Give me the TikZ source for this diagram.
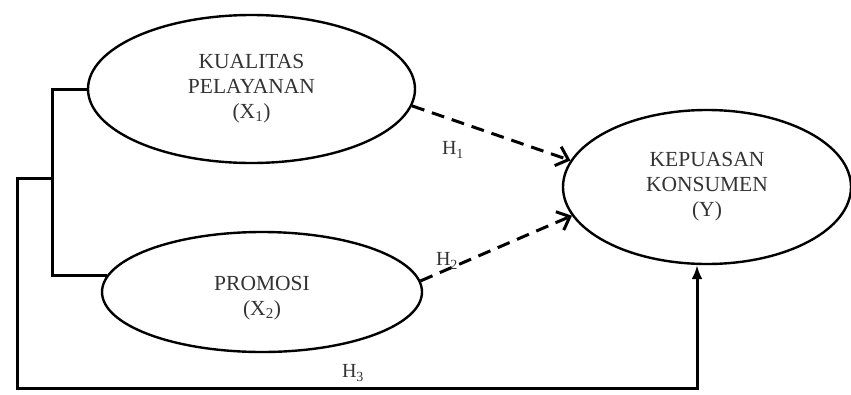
\documentclass[tikz,border=0pt]{standalone}
\usepackage{fontspec}
\setmainfont{Liberation Serif}
\usetikzlibrary{shapes.geometric,arrows.meta}
\begin{document}
\begin{tikzpicture}[x=1pt,y=-1pt,
  ell/.style={draw=black,line width=2.4pt,ellipse,inner sep=0pt,align=center,
    text=black!80,font=\fontsize{21.5}{25}\selectfont},
  txt/.style={align=center,inner sep=0pt,text=black!80,font=\fontsize{21.5}{25}\selectfont},
  lbl/.style={text=black!80,font=\fontsize{20}{24}\selectfont,inner sep=0pt},
  solidline/.style={draw=black,line width=3pt},
  dashline/.style={draw=black,line width=3pt,dash pattern=on 13pt off 8pt,
    -{Straight Barb[length=11pt,width=20pt,line width=3pt]}}]
\useasboundingbox (0,0) rectangle (851,394);
\node[ell,minimum width=327pt,minimum height=148pt] (e1) at (251.5,89)
  {KUALITAS\\PELAYANAN\\(X\textsubscript{1})};
\node[ell,minimum width=320pt,minimum height=120pt] (e2) at (262,292) {};
\node[txt] (t2) at (262,298) {PROMOSI\\(X\textsubscript{2})};
\node[ell,minimum width=288pt,minimum height=154pt] (e3) at (707,187)
  {KEPUASAN\\KONSUMEN\\(Y)};
\coordinate (b1) at (52,89);
\coordinate (j) at (52,178);
\coordinate (b2) at (17,178);
\coordinate (c3) at (697,388);
\draw[solidline,line join=miter] (e1.west) -- (b1) |- (e2.174);
\draw[solidline,line join=miter,-{Latex[length=14pt,width=11pt]}]
  (j) -- (b2) |- (c3) -- (c3 |- e3.south);
\draw[dashline] (e1.-6) -- (e3.169);
\draw[dashline] (e2.4) -- (e3.192);
\node[lbl] (h1) at (453,150) {H\textsubscript{1}};
\node[lbl] (h2) at (447,261) {H\textsubscript{2}};
\node[lbl] (h3) at (353,373) {H\textsubscript{3}};
\end{tikzpicture}
\end{document}
